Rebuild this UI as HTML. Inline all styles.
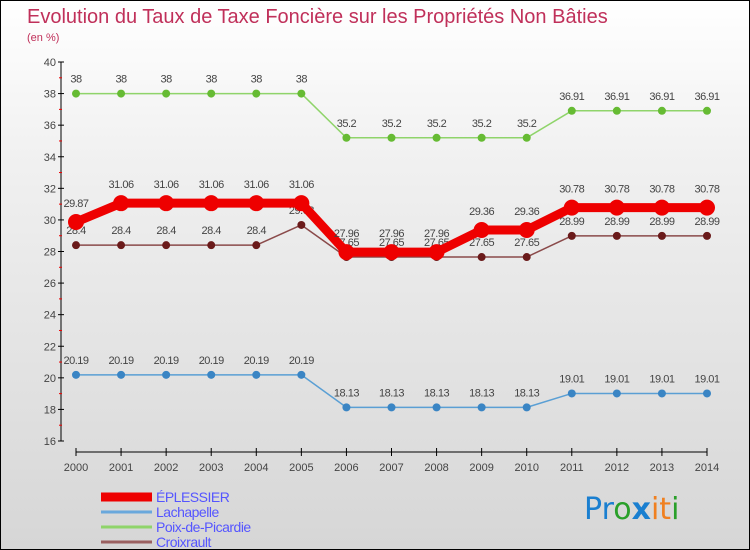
<!DOCTYPE html>
<html><head><meta charset="utf-8"><style>
body{margin:0;}
#c{position:relative;width:750px;height:550px;box-sizing:border-box;border:1px solid #000;background:linear-gradient(#ffffff,#f0f0f0 30%,#d6d6d6);overflow:hidden;font-family:"Liberation Sans",sans-serif;}
svg{position:absolute;left:0;top:0;}
</style></head><body>
<div id="c">
<svg id="s" width="750" height="550">
<text x="26" y="22" font-size="20" fill="#c0305a">Evolution du Taux de Taxe Foncière sur les Propriétés Non Bâties</text>
<text x="26" y="40" font-size="11" fill="#c0305a">(en %)</text>
<text x="583" y="518" font-size="30" font-family="'DejaVu Sans',sans-serif"><tspan fill="#1a7fd0">Pr</tspan><tspan fill="#2aa02a">o</tspan><tspan fill="#1a7fd0" font-weight="bold">x</tspan><tspan fill="#f08020">it</tspan><tspan fill="#2aa02a">i</tspan></text>
</svg>
</div>
<script>
const years=[2000,2001,2002,2003,2004,2005,2006,2007,2008,2009,2010,2011,2012,2013,2014];
const eplessier=[29.87,31.06,31.06,31.06,31.06,31.06,27.96,27.96,27.96,29.36,29.36,30.78,30.78,30.78,30.78];
const lachapelle=[20.19,20.19,20.19,20.19,20.19,20.19,18.13,18.13,18.13,18.13,18.13,19.01,19.01,19.01,19.01];
const poix=[38,38,38,38,38,38,35.2,35.2,35.2,35.2,35.2,36.91,36.91,36.91,36.91];
const croixrault=[28.4,28.4,28.4,28.4,28.4,29.68,27.65,27.65,27.65,27.65,27.65,28.99,28.99,28.99,28.99];
const yTicks=[16,18,20,22,24,26,28,30,32,34,36,38,40];
const seriesNames=["ÉPLESSIER","Lachapelle","Poix-de-Picardie","Croixrault"];
const svg=document.getElementById('s');const NS='http://www.w3.org/2000/svg';
function X(i){return 75+i*(706-75)/(years.length-1);}
function Y(v){return 440-(v-16)*(440-61)/24;}
function el(t,a,p){const e=document.createElementNS(NS,t);for(const k in a)e.setAttribute(k,a[k]);(p||svg).appendChild(e);return e;}
// y axis
let ya=el('line',{x1:60,y1:Y(40),x2:60,y2:Y(16),stroke:'#000'});


yTicks.forEach(v=>{
 el('line',{x1:57,x2:63,y1:Y(v),y2:Y(v),stroke:'#000'});
 if(v<40){el('line',{x1:58,x2:61,y1:Y(v+1),y2:Y(v+1),stroke:'#e00'});}
 const t=el('text',{x:55,y:Y(v)+4,'font-size':11,'text-anchor':'end',fill:'#444'});t.textContent=v;
 
 
});
let xa=el('line',{x1:75,y1:451,x2:706,y2:451,stroke:'#000'});


years.forEach((y,i)=>{
 el('line',{x1:X(i),x2:X(i),y1:447,y2:455,stroke:'#000'});
 const t=el('text',{x:X(i),y:470,'font-size':11,'text-anchor':'middle',fill:'#444'});t.textContent=y;
 
 
});
function series(vals,color,w,r,name,dotColor){
 const g=el('g',{});
 
 
 el('polyline',{points:vals.map((v,i)=>X(i)+','+Y(v)).join(' '),fill:'none',stroke:color,'stroke-width':w,'stroke-linejoin':'round'},g);
 vals.forEach((v,i)=>{
  const c=el('circle',{cx:X(i),cy:Y(v),r:r,fill:dotColor||color},g);
  
  
  const t=el('text',{x:X(i),y:Y(v)-(r+7),'font-size':11,'text-anchor':'middle',fill:'#444','letter-spacing':'-0.5'},g);t.textContent=v;
  
  
 });
}
series(poix,'#8fd46a',1.5,4,'poix','#66bb33');
series(lachapelle,'#5a9fd4',1.5,4,'lachapelle','#3a85c4');
series(croixrault,'#8a4a4a',1.5,4,'croixrault','#6a1a1a');
series(eplessier,'#ee0000',9,8,'eplessier','#ee0000');
const cols=['#ee0000','#6aa8dc','#8fd46a','#9a6060'];const ws=[9,3,3,3];
seriesNames.forEach((n,i)=>{
 const y=496+i*15;
 const g=el('g',{});
 
 
 el('line',{x1:100,x2:151,y1:y,y2:y,stroke:cols[i],'stroke-width':ws[i]},g);
 const t=el('text',{x:155,y:y+5,'font-size':14,fill:'#5555ff','letter-spacing':'-0.5'},g);t.textContent=n;
});
</script>
</body></html>
